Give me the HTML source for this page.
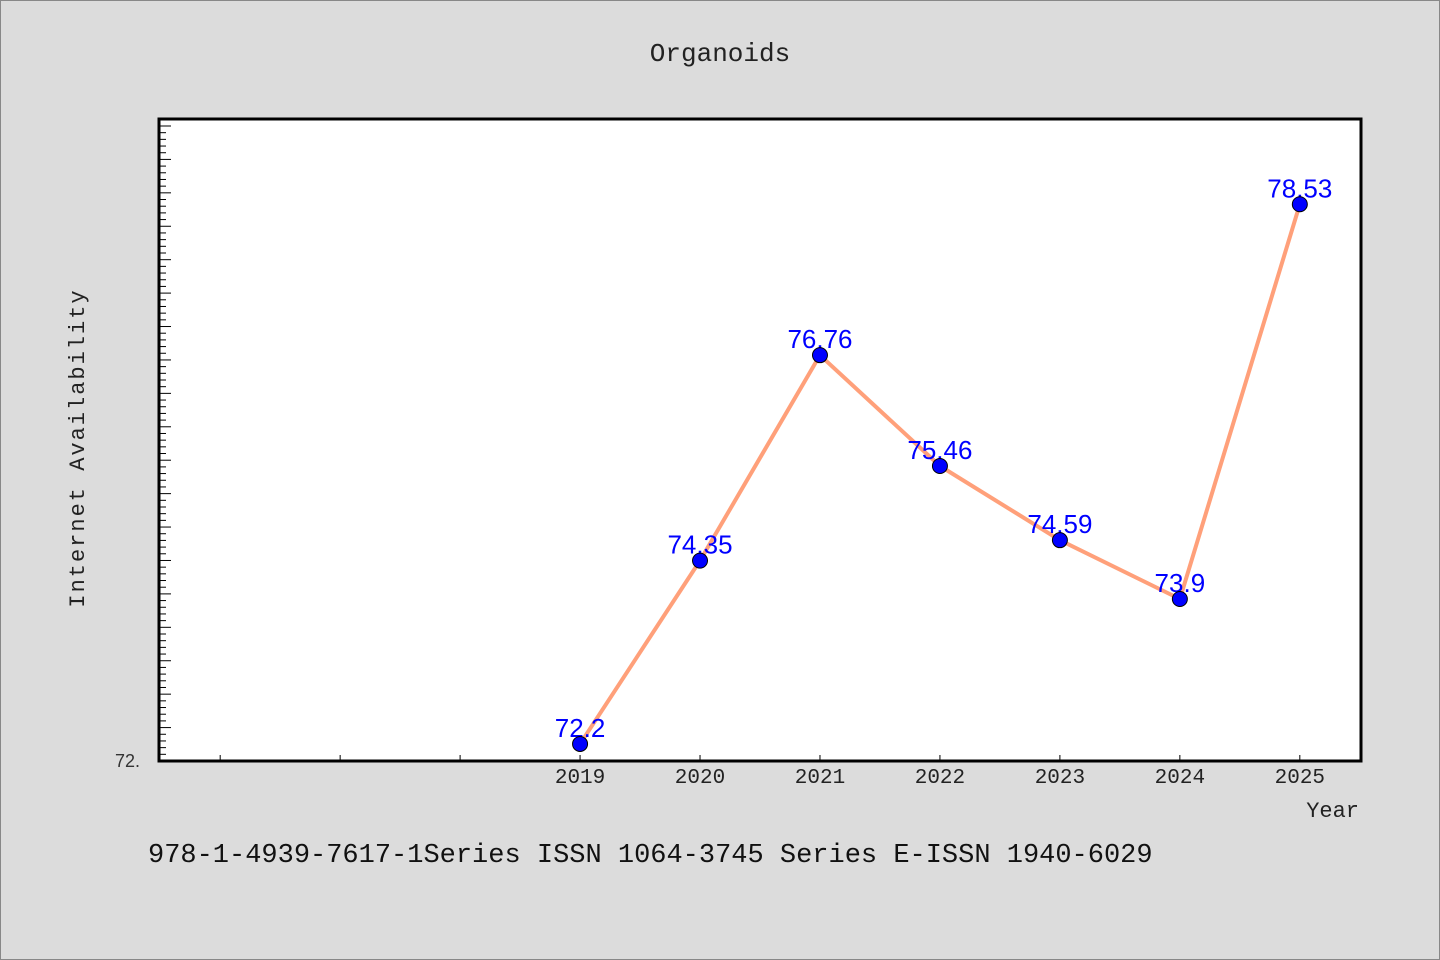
<!DOCTYPE html>
<html><head><meta charset="utf-8"><style>
html,body{margin:0;padding:0;background:#dcdcdc;}
svg{display:block;font-family:"Liberation Mono","DejaVu Sans Mono",monospace;}
</style></head><body>
<svg id="chart" width="1440" height="960" xmlns="http://www.w3.org/2000/svg">
<rect x="0.5" y="0.5" width="1439" height="959" fill="#dcdcdc" stroke="#888"/>
<text x="720" y="61" text-anchor="middle" font-size="26" fill="#222">Organoids</text>
<rect x="159" y="119" width="1202" height="642" fill="#fff"/>
<g id="ticks"></g>
<g id="series"></g>
<rect x="159" y="119" width="1202" height="642" fill="none" stroke="#000" stroke-width="3"/>
<text x="140" y="767" text-anchor="end" font-family="Liberation Sans, sans-serif" font-size="18" fill="#333">72.</text>
<text transform="translate(84,448) rotate(-90)" text-anchor="middle" font-size="22" fill="#222" letter-spacing="2">Internet Availability</text>
<text x="1359" y="817" text-anchor="end" font-size="22" fill="#222">Year</text>
<text x="148" y="862" font-size="27" fill="#111">978-1-4939-7617-1Series ISSN 1064-3745 Series E-ISSN 1940-6029</text>
</svg>
<script>
const years = [2019, 2020, 2021, 2022, 2023, 2024, 2025];
const values = [72.2, 74.35, 76.76, 75.46, 74.59, 73.9, 78.53];
const labels = ["72.2", "74.35", "76.76", "75.46", "74.59", "73.9", "78.53"];
const xMin = 2015.49, xMax = 2025.51, yMin = 72, yMax = 79.53;
const L = 159, R = 1361, T = 119, B = 761;
const xs = v => L + (v - xMin) / (xMax - xMin) * (R - L);
const ys = v => B - (v - yMin) / (yMax - yMin) * (B - T);
const NS = "http://www.w3.org/2000/svg";
function mk(tag, attrs, parent) {
  const e = document.createElementNS(NS, tag);
  for (const k in attrs) e.setAttribute(k, attrs[k]);
  parent.appendChild(e);
  return e;
}
const tg = document.getElementById('ticks');
const minorStep = 0.0784;
for (let i = 1; ; i++) {
  const v = yMin + i * minorStep;
  if (v >= yMax) break;
  const y = ys(v);
  const t = mk('line', {x1: L, x2: L + (i % 5 === 0 ? 12 : 7), y1: y, y2: y, stroke: '#000', 'stroke-width': 1}, tg);
  
  
}
for (let yr = 2016; yr <= 2025; yr++) {
  const x = xs(yr);
  const t = mk('line', {x1: x, x2: x, y1: B, y2: B - 6, stroke: '#000', 'stroke-width': 1}, tg);
  
  
}
years.forEach(yr => {
  const t = mk('text', {x: xs(yr), y: 783, 'text-anchor': 'middle', 'font-size': 21, fill: '#222'}, tg);
  t.textContent = String(yr);
  
  
});
const sg = document.getElementById('series');
const line = mk('polyline', {points: years.map((y, i) => xs(y) + ',' + ys(values[i])).join(' '), fill: 'none', stroke: '#ffa07a', 'stroke-width': 4, 'stroke-linejoin': 'round'}, sg);


years.forEach((yr, i) => {
  const lab = mk('text', {x: xs(yr), y: ys(values[i]) - 7, 'text-anchor': 'middle', 'font-family': 'Liberation Sans, sans-serif', 'font-size': 26, fill: '#0000ff'}, sg);
  lab.textContent = labels[i];
  
  
});
years.forEach((yr, i) => {
  const c = mk('circle', {cx: xs(yr), cy: ys(values[i]), r: 7.5, fill: '#0000ff', stroke: '#000', 'stroke-width': 1}, sg);
  
  
});
</script>
</body></html>
